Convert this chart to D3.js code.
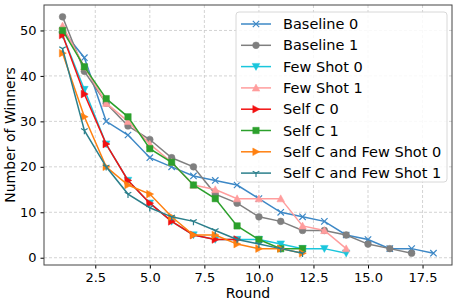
<!DOCTYPE html>
<html>
<head>
<meta charset="utf-8">
<script src="https://cdn.jsdelivr.net/npm/d3@7"></script>
<style>
  body { margin: 0; background: #fff; }
  text { font-family: "DejaVu Sans", sans-serif; fill: #000; }
</style>
</head>
<body>
<div id="chart"></div>
<script>
// winners left after each round, per run
const baseline0 = [50, 44, 30, 27, 22, 20, 18, 17, 16, 13, 10, 9, 8, 5, 4, 2, 2, 1];
const baseline1 = [53, 41, 34, 29, 26, 22, 20, 14, 12, 9, 8, 6, 6, 5, 3, 2, 1];
const fewShot0 = [49, 37, 25, 17, 12, 8, 5, 4, 4, 4, 3, 2, 2, 1];
const fewShot1 = [51, 42, 34, 30, 25, 21, 16, 15, 13, 13, 13, 7, 6, 2];
const selfC0 = [49, 36, 25, 17, 12, 8, 5, 4, 4];
const selfC1 = [50, 42, 35, 31, 24, 21, 16, 13, 7, 4, 2, 2];
const selfCFew0 = [45, 31, 20, 16, 14, 9, 5, 5, 3, 2, 2, 1];
const selfCFew1 = [46, 28, 20, 14, 11, 9, 8, 6, 4, 3, 2, 1];

const names = ["Baseline 0", "Baseline 1", "Few Shot 0", "Few Shot 1",
  "Self C 0", "Self C 1", "Self C and Few Shot 0", "Self C and Few Shot 1"];
const values = [baseline0, baseline1, fewShot0, fewShot1, selfC0, selfC1, selfCFew0, selfCFew1];
const colors = ["#3d88c6", "#7f7f7f", "#1ac6dc", "#ff9d9d", "#f21111", "#2ca02c", "#ff8010", "#2b7f8b"];
const markers = ["x", "circle", "tridown", "triup", "triright", "square", "triright", "tri1"];
const xTicks = [2.5, 5.0, 7.5, 10.0, 12.5, 15.0, 17.5];
const yTicks = [0, 10, 20, 30, 40, 50];

const series = names.map((n, i) => ({
  name: n, color: colors[i], marker: markers[i],
  pts: values[i].map((v, j) => ({ r: j + 1, v: v }))
}));

const W = 459, H = 306;
const m = { left: 44, right: 7, top: 5, bottom: 41 };

const svg = d3.select("#chart").append("svg")
  .attr("width", W).attr("height", H);

const x = d3.scaleLinear().domain([0.15, 18.85]).range([m.left, W - m.right]);
const y = d3.scaleLinear().domain([-1.6, 55.6]).range([H - m.bottom, m.top]);

// grid
svg.append("g").selectAll("line").data(xTicks).enter().append("line")
  .attr("x1", d => x(d)).attr("x2", d => x(d))
  .attr("y1", m.top).attr("y2", H - m.bottom)
  .attr("stroke", "#c8c8c8").attr("stroke-width", 0.8).attr("stroke-dasharray", "3,2");
svg.append("g").selectAll("line").data(yTicks).enter().append("line")
  .attr("y1", d => y(d)).attr("y2", d => y(d))
  .attr("x1", m.left).attr("x2", W - m.right)
  .attr("stroke", "#c8c8c8").attr("stroke-width", 0.8).attr("stroke-dasharray", "3,2");

// axes
const xAxis = svg.append("g").attr("transform", `translate(0,${H - m.bottom})`)
  .call(d3.axisBottom(x).tickValues(xTicks).tickFormat(d3.format(".1f")).tickSize(3.5).tickPadding(4));
const yAxis = svg.append("g").attr("transform", `translate(${m.left},0)`)
  .call(d3.axisLeft(y).tickValues(yTicks).tickSize(3.5).tickPadding(4));
[xAxis, yAxis].forEach(a => {
  a.select(".domain").remove();
  a.selectAll("text").style("font-size", "13px").style("font-family", "DejaVu Sans").attr("fill", "#000");
  a.selectAll("line").attr("stroke", "#000");
});

svg.append("rect")
  .attr("x", m.left).attr("y", m.top)
  .attr("width", W - m.left - m.right).attr("height", H - m.top - m.bottom)
  .attr("fill", "none").attr("stroke", "#444").attr("stroke-width", 1);

svg.append("text").attr("x", (m.left + W - m.right) / 2).attr("y", 298)
  .attr("text-anchor", "middle").style("font-size", "14px").text("Round");
svg.append("text").attr("transform", `translate(15,${(m.top + H - m.bottom) / 2}) rotate(-90)`)
  .attr("text-anchor", "middle").style("font-size", "14px").text("Number of Winners");

// marker shapes
function markerPath(type) {
  switch (type) {
    case "circle": return d3.symbol(d3.symbolCircle, 36)();
    case "square": return "M-3.2,-3.2H3.2V3.2H-3.2Z";
    case "x": return "M-3.2,-3.2L3.2,3.2M-3.2,3.2L3.2,-3.2";
    case "tridown": return "M-3.8,-3.2L3.8,-3.2L0,3.8Z";
    case "triup": return "M-3.8,3.2L3.8,3.2L0,-3.8Z";
    case "triright": return "M-3.2,-3.8L-3.2,3.8L3.8,0Z";
    case "tri1": return "M0,0L0,3.8M0,0L-3.3,-1.9M0,0L3.3,-1.9";
  }
}
const lineOnly = t => t === "x" || t === "tri1";

const line = d3.line().x(d => x(d.r)).y(d => y(d.v));

const g = svg.append("g");
series.forEach(s => {
  const sg = g.append("g");
  sg.append("path").datum(s.pts).attr("d", line)
    .attr("fill", "none").attr("stroke", s.color).attr("stroke-width", 1.5);
  sg.selectAll("path.mk").data(s.pts).enter().append("path").attr("class", "mk")
    .attr("transform", d => `translate(${x(d.r)},${y(d.v)})`)
    .attr("d", markerPath(s.marker))
    .attr("fill", lineOnly(s.marker) ? "none" : s.color)
    .attr("stroke", s.color).attr("stroke-width", lineOnly(s.marker) ? 1.2 : 0.5);
});

// legend
const lg = svg.append("g").attr("transform", "translate(236,12)");
lg.append("rect").attr("width", 211).attr("height", 170).attr("rx", 3)
  .attr("fill", "#fff").attr("fill-opacity", 0.85).attr("stroke", "#d8d8d8");
series.forEach((s, i) => {
  const row = lg.append("g").attr("transform", `translate(0,${12 + i * 21.3})`);
  row.append("line").attr("x1", 5).attr("x2", 35).attr("stroke", s.color).attr("stroke-width", 1.5);
  row.append("path").attr("transform", "translate(20,0)").attr("d", markerPath(s.marker))
    .attr("fill", lineOnly(s.marker) ? "none" : s.color)
    .attr("stroke", s.color).attr("stroke-width", lineOnly(s.marker) ? 1.2 : 0.5);
  row.append("text").attr("x", 47).attr("y", 5).style("font-size", "14.5px").text(s.name);
});
</script>
</body>
</html>
